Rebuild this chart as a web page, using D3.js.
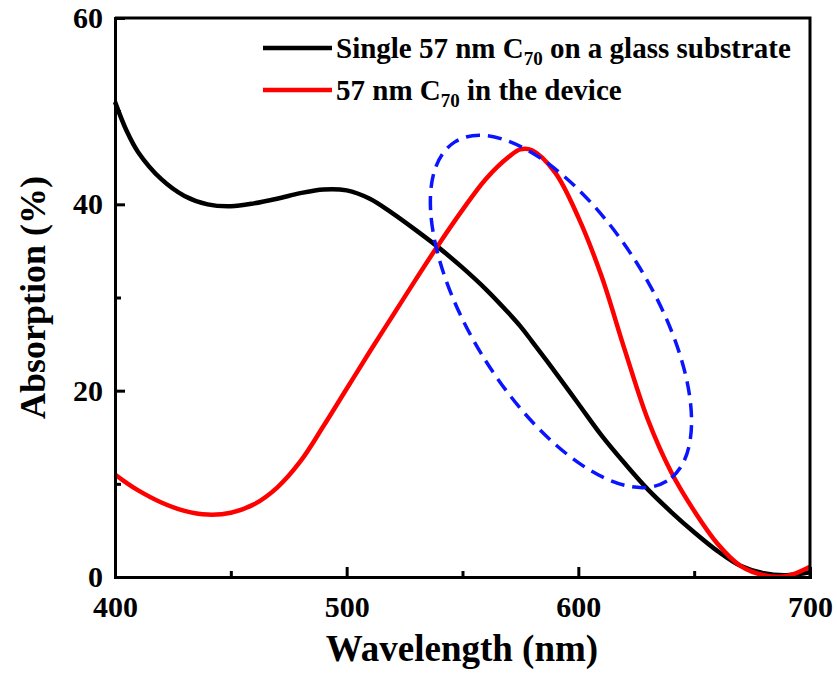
<!DOCTYPE html>
<html>
<head>
<meta charset="utf-8">
<script src="https://cdn.jsdelivr.net/npm/d3@7/dist/d3.min.js"></script>
<style>
  body { margin: 0; background: #fff; }
  svg text { font-family: "Liberation Serif", "Times New Roman", serif; font-weight: bold; }
</style>
</head>
<body>
<div id="chart"></div>
<script>
// wavelength (nm)
const wavelengths = [400, 405, 410, 420, 430, 440, 450, 460, 470, 480, 490, 500, 510, 520, 530, 540, 550,
  560, 570, 575, 580, 590, 600, 610, 620, 630, 640, 650, 660, 670, 680, 690, 700];
// single 57 nm C70 on glass
const glassAbs = [51.0, 47.9, 45.6, 42.7, 40.9, 40.0, 39.8, 40.1, 40.6, 41.2, 41.6, 41.5, 40.6, 39.0, 37.2, 35.3, 33.2,
  30.9, 28.3, 26.9, 25.3, 22.0, 18.6, 15.2, 12.2, 9.4, 7.0, 4.8, 2.8, 1.2, 0.4, 0.2, 0.5];
// 57 nm C70 in the device
const deviceAbs = [11.0, 10.1, 9.3, 8.0, 7.1, 6.7, 6.9, 7.8, 9.6, 12.4, 16.2, 20.2, 24.2, 28.1, 32.0, 35.8, 39.4,
  42.7, 45.1, 45.9, 45.8, 43.4, 38.6, 32.3, 24.4, 16.9, 11.3, 7.1, 3.6, 1.2, 0.2, 0.1, 1.1];

const seriesNames = ["Single 57 nm C", "57 nm C"];
const seriesTail = [" on a glass substrate", " in the device"];
const seriesColors = ["#000000", "#ff0000"];

const xTicks = [400, 500, 600, 700];
const xMinor = [450, 550, 650];
const yTicks = [0, 20, 40, 60];
const yMinor = [10, 30, 50];

const W = 837, H = 679;
const margin = { left: 115, right: 27, top: 18, bottom: 102 };

const svg = d3.select('#chart').append('svg')
    .attr('width', W).attr('height', H);

const x = d3.scaleLinear().domain([400, 700]).range([margin.left, W - margin.right]);
const y = d3.scaleLinear().domain([0, 60]).range([H - margin.bottom, margin.top]);

// curves
const line = d3.line()
    .x(d => x(d[0]))
    .y(d => y(d[1]))
    .curve(d3.curveCatmullRom.alpha(0.5));

[glassAbs, deviceAbs].forEach((vals, i) => {
    svg.append('path')
        .datum(wavelengths.map((w, k) => [w, vals[k]]))
        .attr('d', line)
        .attr('fill', 'none')
        .attr('stroke', seriesColors[i])
        .attr('stroke-width', 4.5)
        .attr('stroke-linejoin', 'round');
});

// dashed ellipse highlight
const ellipseCenter = [592.5, 28.5];
svg.append('ellipse')
    .attr('cx', x(ellipseCenter[0]))
    .attr('cy', y(ellipseCenter[1]))
    .attr('rx', 200).attr('ry', 90)
    .attr('transform', `rotate(58, ${x(ellipseCenter[0])}, ${y(ellipseCenter[1])})`)
    .attr('fill', 'none')
    .attr('stroke', '#0a14ff')
    .attr('stroke-width', 3.5)
    .attr('stroke-dasharray', '14 8');

// axes
svg.append('g')
    .attr('transform', `translate(0,${y(0)})`)
    .call(d3.axisBottom(x).tickValues(xTicks).tickSize(-10).tickPadding(19).tickFormat(d3.format('d')));
svg.append('g')
    .attr('transform', `translate(0,${y(0)})`)
    .call(d3.axisBottom(x).tickValues(xMinor).tickSize(-6).tickFormat(''))
    .call(g => g.select('.domain').remove());

svg.append('g')
    .attr('transform', `translate(${x(400)},0)`)
    .call(d3.axisLeft(y).tickValues(yTicks).tickSize(-10).tickPadding(12));
svg.append('g')
    .attr('transform', `translate(${x(400)},0)`)
    .call(d3.axisLeft(y).tickValues(yMinor).tickSize(-6).tickFormat(''))
    .call(g => g.select('.domain').remove());

svg.selectAll('.tick line').attr('stroke', '#000').attr('stroke-width', 3);
svg.selectAll('.domain').attr('stroke', '#000').attr('stroke-width', 3);
svg.selectAll('.tick text')
    .attr('fill', '#000')
    .style('font-size', '30px');

// frame top & right
svg.append('path')
    .attr('d', `M${x(400)},${y(60)}H${x(700)}V${y(0)}`)
    .attr('fill', 'none')
    .attr('stroke', '#000')
    .attr('stroke-width', 3);

// axis titles
svg.append('text')
    .attr('x', 462)
    .attr('y', 661)
    .attr('text-anchor', 'middle')
    .style('font-size', '37px')
    .text('Wavelength (nm)');

svg.append('text')
    .attr('transform', `translate(45,${(y(0) + y(60)) / 2}) rotate(-90)`)
    .attr('text-anchor', 'middle')
    .style('font-size', '36px')
    .text('Absorption (%)');

// legend
const legend = svg.selectAll('.legend')
    .data(seriesNames)
    .enter()
    .append('g')
    .attr('class', 'legend')
    .attr('transform', (d, i) => `translate(263,${48 + i * 42})`);

legend.append('line')
    .attr('x1', 0).attr('x2', 69)
    .attr('stroke', (d, i) => seriesColors[i])
    .attr('stroke-width', 4.5);

const lt = legend.append('text')
    .attr('x', 73)
    .attr('y', 10)
    .style('font-size', '29px');
lt.append('tspan').text(d => d);
lt.append('tspan').attr('dy', 7).style('font-size', '19px').text('70');
lt.append('tspan').attr('dy', -7).text((d, i) => seriesTail[i]);
</script>
</body>
</html>
